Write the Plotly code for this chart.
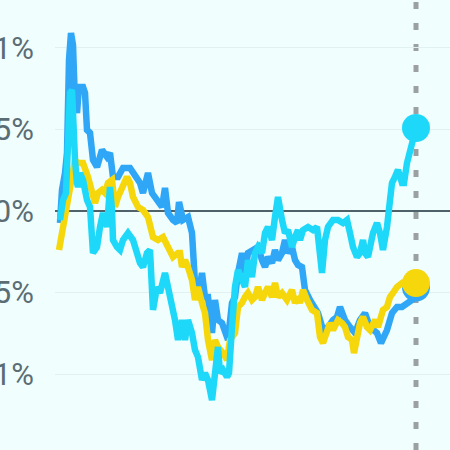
import plotly.graph_objects as go

# Day index (0 = first day) and % change for each series
blue_days = [0, 2, 5, 7, 9, 11, 13, 15, 17, 19, 23, 25, 27, 30, 33, 37, 42, 47, 50, 53, 58, 63, 70, 75, 80, 83, 88, 92, 97, 102, 105, 108, 113, 117, 119, 123, 128, 132, 135, 138, 142, 145, 148, 152, 155, 158, 162, 165, 168, 172, 175, 178, 182, 185, 188, 193, 198, 202, 205, 208, 212, 215, 218, 222, 225, 228, 232, 235, 238, 242, 245, 250, 255, 258, 263, 268, 273, 277, 280, 285, 290, 295, 300, 305, 310, 317, 321, 327, 332, 337, 342, 347, 352, 356]
blue_vals = [-0.074, 0.129, 0.233, 0.356, 0.926, 1.092, 1.018, 0.663, 0.601, 0.761, 0.761, 0.724, 0.497, 0.479, 0.313, 0.270, 0.374, 0.331, 0.356, 0.209, 0.209, 0.264, 0.264, 0.209, 0.172, 0.110, 0.233, 0.110, 0.067, 0.025, 0.141, -0.012, -0.055, -0.074, 0.055, -0.055, -0.037, -0.135, -0.442, -0.528, -0.380, -0.528, -0.528, -0.748, -0.546, -0.669, -0.687, -0.730, -0.791, -0.564, -0.528, -0.380, -0.258, -0.380, -0.258, -0.239, -0.221, -0.301, -0.344, -0.282, -0.319, -0.239, -0.301, -0.258, -0.178, -0.258, -0.221, -0.301, -0.331, -0.344, -0.485, -0.546, -0.589, -0.626, -0.730, -0.712, -0.669, -0.650, -0.589, -0.669, -0.712, -0.748, -0.669, -0.626, -0.712, -0.748, -0.810, -0.730, -0.626, -0.589, -0.589, -0.564, -0.546, -0.470]

yellow_days = [-1, 3, 7, 11, 15, 18, 23, 28, 32, 35, 38, 42, 45, 48, 52, 55, 58, 62, 67, 70, 73, 78, 83, 88, 93, 98, 103, 108, 113, 118, 120, 122, 125, 128, 132, 135, 138, 142, 145, 148, 152, 155, 158, 163, 167, 170, 175, 178, 182, 185, 188, 192, 195, 198, 202, 205, 208, 212, 215, 218, 222, 227, 232, 235, 238, 240, 243, 247, 252, 257, 260, 263, 267, 270, 273, 278, 282, 285, 288, 292, 294, 297, 300, 303, 307, 310, 315, 318, 323, 327, 330, 333, 337, 342, 347, 352, 356]
yellow_vals = [-0.239, -0.086, 0.067, 0.221, 0.313, 0.294, 0.294, 0.209, 0.110, 0.049, 0.110, 0.129, 0.110, 0.172, 0.190, 0.025, 0.086, 0.147, 0.209, 0.172, 0.086, 0.025, 0.006, -0.037, -0.160, -0.178, -0.160, -0.221, -0.282, -0.258, -0.258, -0.344, -0.301, -0.344, -0.423, -0.546, -0.466, -0.564, -0.626, -0.791, -0.914, -0.791, -0.834, -0.871, -0.914, -0.791, -0.748, -0.589, -0.564, -0.528, -0.503, -0.546, -0.528, -0.466, -0.546, -0.503, -0.466, -0.528, -0.442, -0.528, -0.503, -0.546, -0.485, -0.564, -0.528, -0.564, -0.485, -0.546, -0.607, -0.626, -0.773, -0.810, -0.730, -0.687, -0.730, -0.669, -0.687, -0.712, -0.773, -0.791, -0.871, -0.773, -0.687, -0.650, -0.712, -0.730, -0.669, -0.712, -0.607, -0.589, -0.528, -0.503, -0.466, -0.442, -0.466, -0.423, -0.442]

cyan_days = [0, 3, 6, 8, 10, 12, 13, 15, 17, 18, 20, 23, 27, 30, 33, 37, 40, 43, 47, 50, 52, 53, 57, 60, 63, 68, 73, 77, 80, 83, 87, 90, 93, 97, 100, 105, 108, 112, 115, 118, 122, 125, 128, 132, 135, 138, 142, 145, 148, 152, 155, 158, 160, 163, 167, 169, 172, 175, 178, 182, 185, 188, 192, 195, 198, 202, 205, 208, 212, 215, 218, 222, 225, 228, 232, 235, 238, 240, 243, 248, 253, 257, 260, 262, 265, 268, 273, 278, 283, 287, 290, 293, 297, 300, 303, 305, 308, 313, 317, 320, 323, 327, 330, 332, 335, 338, 342, 344, 347, 350, 353, 356]
cyan_vals = [-0.055, 0.067, 0.110, 0.374, 0.724, 0.742, 0.497, 0.313, 0.172, 0.147, 0.233, 0.190, 0.067, 0.025, -0.258, -0.221, -0.098, -0.012, -0.098, 0.147, 0.006, -0.178, -0.221, -0.239, -0.178, -0.135, -0.178, -0.258, -0.319, -0.344, -0.258, -0.239, -0.607, -0.466, -0.503, -0.380, -0.466, -0.564, -0.669, -0.791, -0.669, -0.791, -0.669, -0.748, -0.853, -0.896, -1.037, -0.994, -1.037, -1.160, -0.957, -0.834, -0.994, -0.975, -1.018, -0.994, -0.712, -0.466, -0.362, -0.423, -0.466, -0.301, -0.405, -0.258, -0.221, -0.258, -0.135, -0.098, -0.178, -0.037, 0.086, -0.055, -0.135, -0.117, -0.221, -0.160, -0.117, -0.178, -0.117, -0.098, -0.117, -0.098, -0.344, -0.380, -0.178, -0.098, -0.055, -0.055, -0.074, -0.055, -0.135, -0.221, -0.282, -0.258, -0.178, -0.258, -0.282, -0.135, -0.074, -0.135, -0.239, -0.098, 0.067, 0.172, 0.209, 0.252, 0.172, 0.172, 0.294, 0.356, 0.436, 0.509]

tick_vals = [1, 0.5, 0, -0.5, -1, -1.5]
tick_text = ["1%", "0.5%", "0%", "-0.5%", "-1%", "-1.5%"]

BLUE = "#2fa6f6"
YELLOW = "#f5d70c"
CYAN = "#1dd8f9"
BG = "#f0fefe"

fig = go.Figure()
for days, vals, col in [(blue_days, blue_vals, BLUE), (yellow_days, yellow_vals, YELLOW), (cyan_days, cyan_vals, CYAN)]:
    fig.add_trace(go.Scatter(x=days, y=vals, mode="lines",
                             line=dict(color=col, width=6.5, shape="linear"),
                             hoverinfo="skip", showlegend=False))
    fig.add_trace(go.Scatter(x=[days[-1]], y=[vals[-1]], mode="markers",
                             marker=dict(color=col, size=28, line=dict(width=0)),
                             hoverinfo="skip", showlegend=False))

end_day = cyan_days[-1]
fig.add_shape(type="line", xref="x", yref="paper", x0=end_day, x1=end_day, y0=0, y1=1,
              line=dict(color="#9ba0a3", width=5, dash="7px,14px"), layer="below")

fig.update_layout(
    width=450, height=450,
    margin=dict(l=55, r=0, t=0, b=0),
    paper_bgcolor=BG, plot_bgcolor=BG,
    xaxis=dict(range=[-5, 390], showgrid=False, zeroline=False, showticklabels=False,
               ticks="", showline=False, fixedrange=True),
    yaxis=dict(range=[-1.466, 1.294], tickvals=tick_vals, ticktext=tick_text,
               showgrid=True, gridcolor="#e1f1f1", gridwidth=1,
               zeroline=True, zerolinecolor="#4f6269", zerolinewidth=2,
               ticks="", showline=False, ticklabelstandoff=20,
               tickfont=dict(family="Roboto", size=31, color="#5b6d74"),
               automargin=False, fixedrange=True),
    showlegend=False,
)

fig.write_html("out.html", config={"displayModeBar": False},
               post_script="document.body.style.margin='0';document.body.style.background='" + BG + "';")
